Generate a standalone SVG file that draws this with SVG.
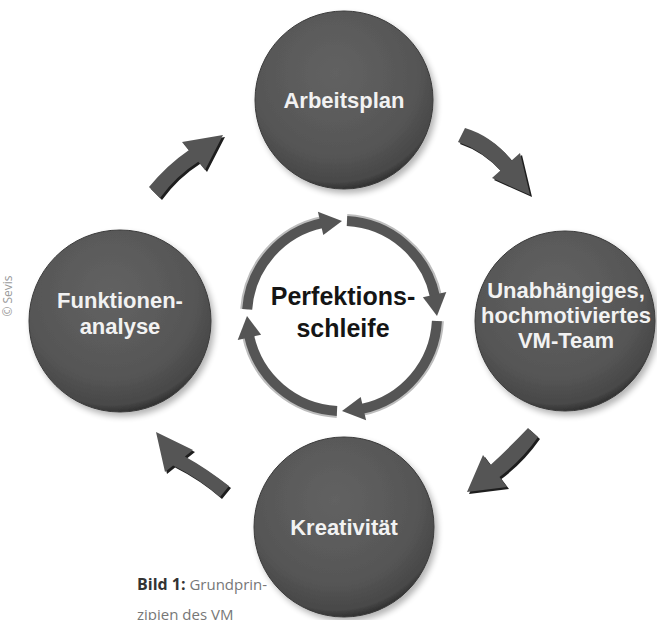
<svg xmlns="http://www.w3.org/2000/svg" width="657" height="620" viewBox="0 0 657 620">
<defs>
<radialGradient id="ballGrad" cx="45%" cy="35%" r="65%">
<stop offset="0" stop-color="#626262"/>
<stop offset="0.7" stop-color="#565656"/>
<stop offset="0.94" stop-color="#484848"/>
<stop offset="1" stop-color="#333333"/>
</radialGradient>
<filter id="shadow" x="-20%" y="-20%" width="150%" height="150%">
<feGaussianBlur in="SourceAlpha" stdDeviation="3"/>
<feOffset dx="3" dy="4"/>
<feComponentTransfer><feFuncA type="linear" slope="0.3"/></feComponentTransfer>
<feMerge><feMergeNode/><feMergeNode in="SourceGraphic"/></feMerge>
</filter>
<style>
.ball{fill:url(#ballGrad);stroke:#3a3a3a;stroke-width:1;filter:url(#shadow)}
.lbl{font-family:"Liberation Sans",Arial,sans-serif;font-weight:bold;font-size:22px;fill:#f2f2f2;text-anchor:middle}
.arr{fill:#555555}
.arrsh{fill:#1e1e1e}
.ring{fill:none;stroke:#555555;stroke-width:10}
.ringlite{fill:none;stroke:#bdbdbd;stroke-width:8}
.head{fill:#555555}
.center{font-family:"Liberation Sans",Arial,sans-serif;font-weight:bold;font-size:25px;fill:#151515;text-anchor:middle}
.cap{font-family:"Open Sans","Liberation Sans",sans-serif;font-size:15px;fill:#777777}
</style>
</defs>
<rect width="657" height="620" fill="#ffffff"/>

<g id="connectors">
<g id="arrow-funktionen-arbeitsplan">
<path class="arrsh" transform="translate(2,2)" d="M149,187 Q167,165 188.7,150.2 L182,142 L223,135 L205,170 L198.3,161.8 Q176,176 160,198 Z"/>
<path class="arr" d="M149,187 Q167,165 188.7,150.2 L182,142 L223,135 L205,170 L198.3,161.8 Q176,176 160,198 Z"/>
</g>
<g id="arrow-arbeitsplan-team">
<path class="arrsh" transform="translate(2,2)" d="M465,128 Q492,136 511.6,160.5 L520,153 L530,195 L492,178 L500.4,170.5 Q482,150 458,142 Z"/>
<path class="arr" d="M465,128 Q492,136 511.6,160.5 L520,153 L530,195 L492,178 L500.4,170.5 Q482,150 458,142 Z"/>
</g>
<g id="arrow-team-kreativitaet">
<path class="arrsh" transform="translate(2,2)" d="M538,437 Q522,460 499.5,477 L507,487 L467,492 L483,455 L490.5,465 Q510,447 528,428 Z"/>
<path class="arr" d="M538,437 Q522,460 499.5,477 L507,487 L467,492 L483,455 L490.5,465 Q510,447 528,428 Z"/>
</g>
<g id="arrow-kreativitaet-funktionen">
<path class="arrsh" transform="translate(2,2)" d="M229,486 Q206,468 184.9,456.4 L193,450 L156,432 L165,472 L173.1,465.6 Q198,478 220,497 Z"/>
<path class="arr" d="M229,486 Q206,468 184.9,456.4 L193,450 L156,432 L165,472 L173.1,465.6 Q198,478 220,497 Z"/>
</g>
</g>

<g id="node-arbeitsplan">
<circle class="ball" cx="344" cy="100" r="89"/>
<text class="lbl" x="344" y="108">Arbeitsplan</text>
</g>
<g id="node-team">
<circle class="ball" cx="565" cy="321" r="90"/>
<text class="lbl" x="566" y="298">Unabhängiges,</text>
<text class="lbl" x="566" y="323">hochmotiviertes</text>
<text class="lbl" x="566" y="348">VM-Team</text>
</g>
<g id="node-kreativitaet">
<circle class="ball" cx="344" cy="527" r="90"/>
<text class="lbl" x="344" y="535">Kreativität</text>
</g>
<g id="node-funktionen">
<circle class="ball" cx="120" cy="321" r="91"/>
<text class="lbl" x="120" y="308">Funktionen-</text>
<text class="lbl" x="120" y="334">analyse</text>
</g>

<g id="node-perfektionsschleife">
<path class="ringlite" d="M244.2,309 A98,98 0 0 1 321.6,220.1"/>
<path class="ringlite" d="M347.1,218.1 A98,98 0 0 1 437.9,295.6"/>
<path class="ringlite" d="M439.9,321.1 A98,98 0 0 1 362.4,411.9"/>
<path class="ringlite" d="M336.9,413.9 A98,98 0 0 1 246.1,336.4"/>
<path class="ring" d="M247.2,309.4 A95,95 0 0 1 322.2,223.1"/>
<path class="head" d="M342,221 L317.9,211.7 L323.3,235.1 Z"/>
<path class="ring" d="M347,221.1 A95,95 0 0 1 434.9,296.2"/>
<path class="head" d="M437,316 L446.3,291.9 L422.9,297.3 Z"/>
<path class="ring" d="M436.9,321 A95,95 0 0 1 361.8,408.9"/>
<path class="head" d="M342,411 L366.1,420.3 L360.7,396.9 Z"/>
<path class="ring" d="M337,410.9 A95,95 0 0 1 249.1,335.8"/>
<path class="head" d="M247,316 L237.7,340.1 L261.1,334.7 Z"/>
<text class="center" x="343" y="305">Perfektions-</text>
<text class="center" x="343" y="337">schleife</text>
</g>

<text x="12" y="296" transform="rotate(-90 12 296)" font-family="'Open Sans','Liberation Sans',sans-serif" font-size="12" fill="#9a9a9a" text-anchor="middle">© Sevis</text>

<text class="cap" x="137" y="590"><tspan font-weight="bold" font-size="16" fill="#333333">Bild 1:</tspan> Grundprin-</text>
<text class="cap" x="137" y="620">zipien des VM</text>
</svg>
